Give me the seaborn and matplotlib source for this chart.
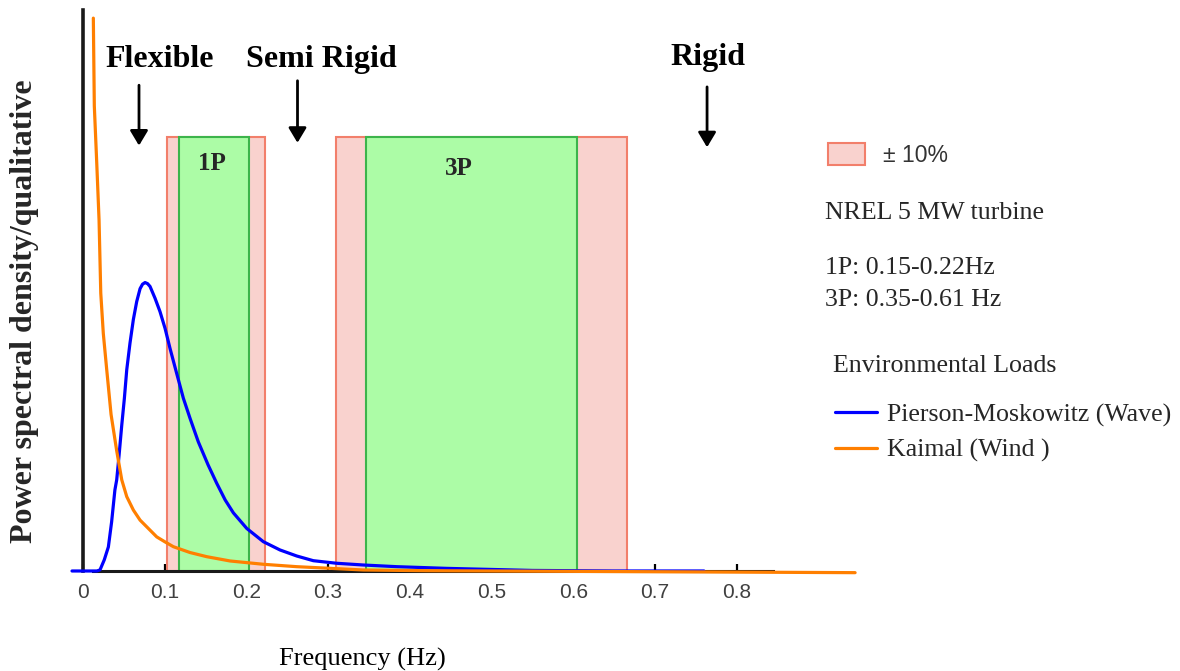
import matplotlib
matplotlib.use("Agg")
import matplotlib.pyplot as plt
import seaborn as sns
from matplotlib.patches import Rectangle
from matplotlib.lines import Line2D

# Pierson-Moskowitz (wave) spectrum (qualitative units)
wave_freq = [-0.0135, 0.010, 0.017, 0.0208, 0.026, 0.031, 0.035, 0.039, 0.0412, 0.0441,
             0.0474, 0.0506, 0.0535, 0.0575, 0.0616, 0.0657, 0.0698, 0.0728, 0.0759, 0.079,
             0.0820, 0.0881, 0.0942, 0.1004, 0.1065, 0.1147, 0.1228, 0.1310, 0.1411, 0.1530,
             0.1636, 0.174, 0.184, 0.2004, 0.2207, 0.2411, 0.2616, 0.2819, 0.3105, 0.3431,
             0.384, 0.445, 0.55, 0.65, 0.76]
wave_psd = [0, 0, 0, 0.002, 0.02, 0.043, 0.088, 0.145, 0.163, 0.207,
            0.261, 0.309, 0.36, 0.408, 0.45, 0.482, 0.505, 0.513, 0.516, 0.514,
            0.509, 0.488, 0.464, 0.434, 0.398, 0.353, 0.309, 0.273, 0.231, 0.19,
            0.157, 0.127, 0.104, 0.0761, 0.0524, 0.0376, 0.0268, 0.0184, 0.0138, 0.0107,
            0.0077, 0.0047, 0.001, 0.0, 0.0]

# Kaimal (wind) spectrum
wind_freq = [0.0126, 0.0138, 0.0168, 0.0196, 0.0217, 0.0248, 0.029, 0.0343, 0.0412, 0.0474,
             0.0535, 0.0616, 0.0698, 0.080, 0.0902, 0.1004, 0.1105, 0.131, 0.1514, 0.18,
             0.2207, 0.2616, 0.302, 0.343, 0.420, 0.500, 0.650, 0.800, 0.945]
wind_psd = [0.989, 0.832, 0.729, 0.628, 0.497, 0.425, 0.36, 0.28, 0.215, 0.163,
            0.133, 0.109, 0.091, 0.076, 0.061, 0.052, 0.0435, 0.033, 0.0256, 0.0179,
            0.012, 0.0077, 0.0048, 0.0018, 0.0005, 0.0, -0.001, -0.002, -0.003]

# rotor frequency bands (as drawn) and their +/-10% margins
bands = ["1P", "3P"]
band_lo = [0.1175, 0.346]
band_hi = [0.2032, 0.6047]
margin_lo = [0.1024, 0.3097]
margin_hi = [0.2228, 0.6659]
band_top = 0.777
band_label_x = [0.158, 0.460]
band_label_y = [0.717, 0.708]

# stiffness regions
zones = ["Flexible", "Semi Rigid", "Rigid"]
zone_x = [0.0943, 0.292, 0.765]
zone_text_y = [0.902, 0.902, 0.906]
arrow_x = [0.0685, 0.2625, 0.7638]
arrow_tail = [0.869, 0.877, 0.866]
arrow_tip = [0.761, 0.766, 0.758]

xticks = [0, 0.1, 0.2, 0.3, 0.4, 0.5, 0.6, 0.7, 0.8]
xticklabels = ["0", "0.1", "0.2", "0.3", "0.4", "0.5", "0.6", "0.7", "0.8"]

PINK = "#f9d2ce"
PINK_EDGE = "#f27f6b"
GREEN = "#acfca6"
GREEN_EDGE = "#3cb44b"
BLUE = "#0000ff"
ORANGE = "#ff7f00"
SERIF = "Liberation Serif"
SANS = "Liberation Sans"

sns.set_theme(style="white")
plt.rcParams["font.family"] = [SERIF, "DejaVu Serif"]

W, H = 1180, 671
fig = plt.figure(figsize=(W / 100, H / 100), dpi=100)


def fx(px):
    return px / W


def fy(py):
    return 1 - py / H


ax = fig.add_axes([fx(60), fy(600), 800 / W, 595 / H])
ax.set_xlim(-0.0282, 0.951)
ax.set_ylim(-0.0519, 1.0125)

# margin boxes then the bands themselves
m_w = [h - l for l, h in zip(margin_lo, margin_hi)]
b_w = [h - l for l, h in zip(band_lo, band_hi)]
ax.bar(margin_lo, [band_top] * len(bands), width=m_w, align="edge",
       color=PINK, edgecolor=PINK_EDGE, linewidth=1.5, zorder=1)
ax.bar(band_lo, [band_top] * len(bands), width=b_w, align="edge",
       color=GREEN, edgecolor=GREEN_EDGE, linewidth=1.5, zorder=1.2)
for name, lx, ly in zip(bands, band_label_x, band_label_y):
    ax.text(lx, ly, name, ha="center", va="baseline", fontsize=18,
            fontweight="bold", family=SERIF)

sns.lineplot(x=wave_freq, y=wave_psd, color=BLUE, lw=2.3, ax=ax, zorder=3, sort=False)
sns.lineplot(x=wind_freq, y=wind_psd, color=ORANGE, lw=2.3, ax=ax, zorder=3.1, sort=False)

for name, zx, zy, axx, t0, t1 in zip(zones, zone_x, zone_text_y, arrow_x, arrow_tail, arrow_tip):
    ax.text(zx, zy, name, ha="center", va="baseline", fontsize=23,
            fontweight="bold", family=SERIF, color="black")
    ax.annotate("", xy=(axx, t1), xytext=(axx, t0),
                arrowprops=dict(arrowstyle="-|>,head_length=0.45,head_width=0.27",
                                color="black", lw=2, mutation_scale=20,
                                shrinkA=0, shrinkB=0))

# axes: plain black lines through the origin
for side in ["top", "right"]:
    ax.spines[side].set_visible(False)
ax.spines["left"].set_position(("data", 0))
ax.spines["left"].set_bounds(0, 1.0036)
ax.spines["left"].set_linewidth(2.6)
ax.spines["left"].set_color("#1a1a1a")
ax.spines["bottom"].set_position(("data", 0))
ax.spines["bottom"].set_bounds(0.0125, 0.845)
ax.spines["bottom"].set_linewidth(2.2)
ax.spines["bottom"].set_color("#1a1a1a")

ax.set_yticks([])
ax.set_xticks(xticks)
ax.set_xticklabels(xticklabels, family=SANS, fontsize=15, color="#404040")
ax.tick_params(axis="x", direction="in", length=5, width=1.6, color="black", pad=8.5,
               bottom=True)
ax.set_xlabel("")
ax.set_ylabel("")

fig.text(fx(362), fy(659), "Frequency (Hz)", ha="center", va="center",
         fontsize=19, family=SERIF, color="black")
fig.text(fx(25), fy(311.5), "Power spectral density/qualitative", rotation=90,
         ha="center", va="center", fontsize=23, fontweight="bold", family=SERIF)

# side key
side_fs = 18.6
fig.add_artist(Rectangle((fx(828), fy(165)), 37 / W, 22 / H, transform=fig.transFigure,
                         facecolor=PINK, edgecolor=PINK_EDGE, linewidth=1.5))
fig.text(fx(883), fy(161.7), "\u00b1 10%", family=SANS, fontsize=16.5, color="#333333",
         va="baseline")
fig.text(fx(825), fy(219), "NREL 5 MW turbine", fontsize=side_fs, va="baseline")
fig.text(fx(825), fy(274), "1P: 0.15-0.22Hz", fontsize=side_fs, va="baseline")
fig.text(fx(825), fy(306), "3P: 0.35-0.61 Hz", fontsize=side_fs, va="baseline")
fig.text(fx(833), fy(371.7), "Environmental Loads", fontsize=side_fs, va="baseline")
fig.add_artist(Line2D([fx(835), fx(877)], [fy(412), fy(412)], color=BLUE, lw=2.3,
                      transform=fig.transFigure))
fig.text(fx(887), fy(421.7), "Pierson-Moskowitz (Wave)", fontsize=side_fs, va="baseline")
fig.add_artist(Line2D([fx(835), fx(877)], [fy(448), fy(448)], color=ORANGE, lw=2.3,
                      transform=fig.transFigure))
fig.text(fx(887), fy(456.7), "Kaimal (Wind )", fontsize=side_fs, va="baseline")

fig.savefig("out.png", dpi=100)
